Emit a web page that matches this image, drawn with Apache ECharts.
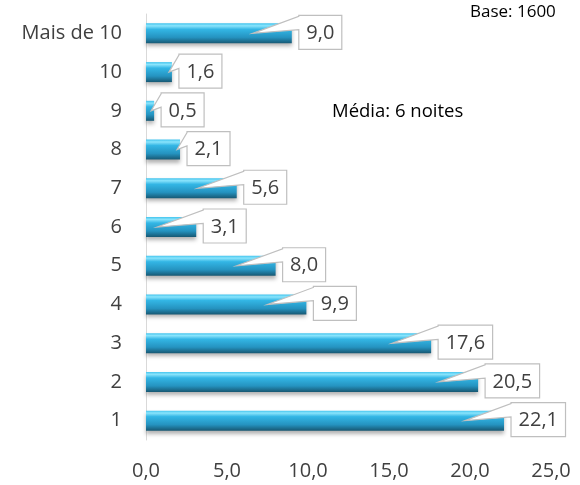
<!DOCTYPE html>
<html>
<head>
<meta charset="utf-8">
<script src="https://cdn.jsdelivr.net/npm/echarts@6/dist/echarts.min.js"></script>
<style>
  html, body { margin: 0; padding: 0; background: #fff; }
  #chart { width: 580px; height: 485px; }
</style>
</head>
<body>
<div id="chart"></div>
<script>
// categorias de baixo para cima
var categorias = ["1", "2", "3", "4", "5", "6", "7", "8", "9", "10", "Mais de 10"];
var valores = [22.1, 20.5, 17.6, 9.9, 8.0, 3.1, 5.6, 2.1, 0.5, 1.6, 9.0];
var ticksX = [0, 5, 10, 15, 20, 25];

var fmt = function (v) {
  return v.toFixed(1).replace(".", ",");
};

var chart = echarts.init(document.getElementById("chart"));

var option = {
  animation: false,
  grid: { left: 146, right: 29, top: 14, bottom: 45 },
  xAxis: {
    type: "value",
    min: ticksX[0],
    max: ticksX[ticksX.length - 1],
    interval: 5,
    axisLine: { show: false },
    axisTick: { show: false },
    splitLine: { show: false },
    axisLabel: {
      margin: 21,
      color: "#404040",
      fontSize: 20,
      fontFamily: "Open Sans",
      formatter: fmt
    }
  },
  yAxis: {
    type: "category",
    data: categorias,
    axisLine: { show: true, lineStyle: { color: "#d9d9d9", width: 1 } },
    axisTick: { show: false },
    axisLabel: {
      margin: 24,
      color: "#404040",
      fontSize: 20,
      fontFamily: "Open Sans"
    }
  },
  series: [
    {
      type: "bar",
      data: valores,
      barWidth: 20,
      itemStyle: {
        color: new echarts.graphic.LinearGradient(0, 0, 0, 1, [
          { offset: 0, color: "#42c4ee" },
          { offset: 0.12, color: "#8ae4fc" },
          { offset: 0.3, color: "#33b6e5" },
          { offset: 0.7, color: "#2593c0" },
          { offset: 1, color: "#175873" }
        ]),
        shadowColor: "rgba(0,0,0,0.3)",
        shadowBlur: 4,
        shadowOffsetY: 3
      }
    },
    {
      // balões de rótulo
      type: "custom",
      z: 10,
      data: valores.map(function (v, i) { return [v, i]; }),
      renderItem: function (params, api) {
        var v = api.value(0);
        var end = api.coord([v, api.value(1)]);
        var zero = api.coord([0, api.value(1)]);
        var txt = fmt(v);
        var w = 11.5 * (txt.length - 1) + 20;
        var h = 34;
        var bx = end[0] + 7;
        var by = end[1] - h / 2 - 1;
        var len = end[0] - zero[0];
        var tipX = len > 45 ? end[0] - 39 : end[0] - 3;
        var tipY = end[1];
        return {
          type: "group",
          children: [
            {
              type: "polygon",
              shape: {
                points: [
                  [bx, by], [bx + w, by], [bx + w, by + h], [bx, by + h],
                  [bx, by + h * 0.42], [tipX, tipY], [bx, by + 1]
                ]
              },
              style: { fill: "#fff", stroke: "#bfbfbf", lineWidth: 1.2 }
            },
            {
              type: "text",
              style: {
                text: txt,
                x: bx + w / 2,
                y: by + h / 2 + 1,
                align: "center",
                verticalAlign: "middle",
                fill: "#404040",
                fontSize: 20,
                fontFamily: "Open Sans"
              }
            }
          ]
        };
      }
    }
  ],
  graphic: [
    {
      type: "text",
      left: 470,
      top: 4,
      style: { text: "Base: 1600", fill: "#000", fontSize: 17, fontFamily: "Open Sans" }
    },
    {
      type: "text",
      left: 332,
      top: 102,
      style: { text: "Média: 6 noites", fill: "#000", fontSize: 18.5, fontFamily: "Open Sans" }
    }
  ]
};

chart.setOption(option);
</script>
</body>
</html>
